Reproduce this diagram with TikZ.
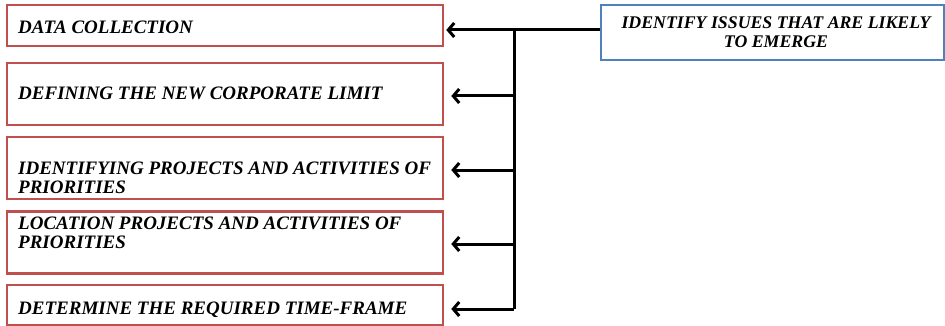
\documentclass[tikz,border=0pt]{standalone}
\usepackage{fontspec}
\setmainfont{Liberation Serif}
\usetikzlibrary{arrows.meta}

\definecolor{boxred}{RGB}{192,80,77}
\definecolor{boxblue}{RGB}{79,129,189}

\begin{document}
\begin{tikzpicture}[x=1pt,y=-1pt,
  box/.style={draw=boxred,line width=2.5pt,minimum width=436pt,inner sep=0pt},
  txt/.style={inner sep=0pt,font=\fontsize{19}{19}\selectfont\bfseries\itshape},
  arr/.style={line width=3pt,-{Straight Barb[length=6pt,width=14pt]}}]

\useasboundingbox (0,0) rectangle (945,326);

% the five steps on the left
\node [box,minimum height=41pt] (s1) at (225, 25.5) {};
\node [box,minimum height=62pt] (s2) at (225, 94)   {};
\node [box,minimum height=62pt] (s3) at (225,168)   {};
\node [box,minimum height=62pt] (s4) at (225,242.5) {};
\node [box,minimum height=40pt] (s5) at (225,305)   {};

\node [txt,anchor=north west,align=left] (t1) at (18, 21) {DATA COLLECTION};
\node [txt,anchor=north west,align=left] (t2) at (18, 87) {DEFINING THE NEW CORPORATE LIMIT};
\node [txt,anchor=north west,align=left] (t3) at (18,162) {IDENTIFYING PROJECTS AND ACTIVITIES OF\\PRIORITIES};
\node [txt,anchor=north west,align=left] (t4) at (18,217) {LOCATION PROJECTS AND ACTIVITIES OF\\PRIORITIES};
\node [txt,anchor=north west,align=left] (t5) at (18,302) {DETERMINE THE REQUIRED TIME-FRAME};

% the source box
\node [draw=boxblue,line width=2.5pt,minimum width=343pt,minimum height=55pt,inner sep=0pt] (issue) at (772.5,32.5) {};
\node [txt,anchor=north,align=center,font=\fontsize{17.8}{19}\selectfont\bfseries\itshape] (ti) at (776,17) {IDENTIFY ISSUES THAT ARE LIKELY\\TO EMERGE};

% branching connector
\coordinate (top) at (514,30);
\coordinate (bot) at (514,309);

\draw [arr] (issue.west |- top) -- ([xshift=2pt]s1.east |- top);
\draw [line width=3pt] (top) -- (bot);

\foreach \i/\y in {2/96,3/170,4/244,5/309} {
\draw [arr] (top |- 0,\y) -- ([xshift=7pt]s\i.east |- 0,\y);
}

\end{tikzpicture}
\end{document}
